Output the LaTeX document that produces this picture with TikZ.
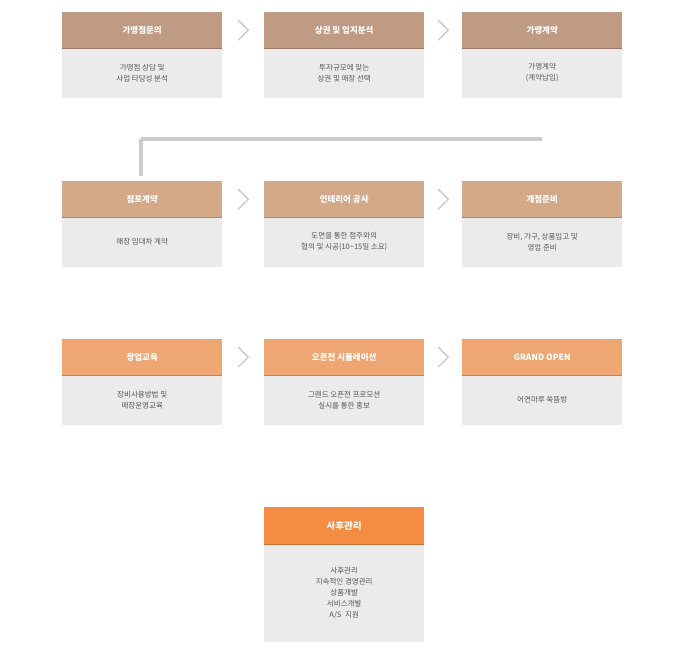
\documentclass[tikz,border=0pt]{standalone}
\usepackage{fontspec}
\setmainfont{Noto Sans CJK KR}
\usetikzlibrary{positioning,calc}
\definecolor{hdone}{HTML}{BF9B83}
\definecolor{hdtwo}{HTML}{D4A98A}
\definecolor{hdthree}{HTML}{EEA673}
\definecolor{hdfour}{HTML}{F58C43}
\definecolor{bodygray}{HTML}{EBEBEB}
\definecolor{linkgray}{HTML}{CCCCCC}
\definecolor{txtgray}{HTML}{555555}
\tikzset{
  head/.style={minimum width=160pt, minimum height=36pt, inner sep=0pt, text=white, font=\bfseries\fontsize{8.5}{10}\selectfont},
  body/.style={fill=bodygray, minimum width=160pt, minimum height=49pt, inner sep=0pt, text=txtgray, align=center, font=\fontsize{7.5}{11}\selectfont},
  chev/.style={draw=linkgray, line width=1.5pt},
  link/.style={draw=linkgray, line width=4pt},
  tip/.style={draw=linkgray, line width=4pt, line cap=butt, line join=miter}
}
\begin{document}
\begin{tikzpicture}[x=1pt,y=-1pt]
        \useasboundingbox (0,0) rectangle (678,657);

        % Rows of steps
        \foreach \n/\x/\y/\c/\hd/\bd in {
            a/62/12/hdone/가맹점문의/{가맹점 상담 및\\사업 타당성 분석},
            b/264/12/hdone/상권 및 입지분석/{투자규모에 맞는\\상권 및 매장 선택},
            c/462/12/hdone/가맹계약/{가맹계약\\(계약납입)},
            d/62/181/hdtwo/점포계약/{매장 임대차 계약},
            e/264/181/hdtwo/인테리어 공사/{도면을 통한 점주와의\\협의 및 시공(10\textasciitilde15일 소요)},
            f/462/181/hdtwo/개점준비/{장비, 가구, 상품입고 및\\영업 준비},
            g/62/339/hdthree/창업교육/{장비사용방법 및\\매장운영교육},
            h/264/339/hdthree/오픈전 시뮬레이션/{그랜드 오픈전 프로모션\\실시를 통한 홍보},
            i/462/339/hdthree/GRAND OPEN/{어연마루 쑥뜸방}}
        {
            \node[head, fill=\c, anchor=north west] (\n h) at (\x,\y) {\hd};
            \node[body, anchor=north] (\n b) at (\n h.south) {\bd};
            \draw[\c!80!black, line width=0.6pt] (\n h.south west) -- (\n h.south east);
        }

        % Last step
        \node[head, fill=hdfour, minimum height=37pt, anchor=north west, font=\bfseries\fontsize{9.5}{11}\selectfont] (jh) at (264,507) {사후관리};
        \node[body, minimum height=97pt, anchor=north, font=\fontsize{7.5}{10.8}\selectfont] (jb) at (jh.south) {사후관리\\지속적인 경영관리\\상품개발\\서비스개발\\A/S\enspace 지원};
        \draw[hdfour!80!black, line width=0.6pt] (jh.south west) -- (jh.south east);

        % Chevrons between steps
        \foreach \p/\q in {a/b,b/c,d/e,e/f,g/h,h/i}
            \draw[chev] ($(\p h.east)!0.5!(\q h.west)+(-5,-10)$) -- ++(10,10) -- ++(-10,10);

        % Links between rows
        \coordinate (ca) at (542,139);
        \coordinate (cb) at (141,139);
        \coordinate (cc) at (141,176);
        \draw[link] (cb) -- (cc);
        \draw[link] (cb) -- (ca);
        \draw[link] (cb) -- (ca);
        \draw[link] (cb) -- (cc);
        \draw[link] (cb) -- (cc);
        \draw[link] (cb) -- (cc);
        \draw[link] (cb) -- (cc);
        \draw[link] (cb) -- (cc);
        \draw[link] (cb) -- (cc);
        \draw[link] (cb) -- (cc);
        \draw[link] (cb) -- (cc);
        \draw[link] (cb) -- (cc);
        \draw[link] (cb) -- (cc);
        \draw[link] (cb) -- (cc);
        \draw[link] (cb) -- (cc);
        \draw[link] (cb) -- (cc);
        \draw[link] (cb) -- (cc);
        \draw[link] (cb) -- (cc);
        \draw[link] (cb) -- (cc);
        \draw[link] (cb) -- (cc);
        \draw[link] (cb) -- (cc);
        \draw[link] (cb) -- (cc);
        \draw[link] (cb) -- (cc);
        \draw[link] (cb) -- (cc);
        \draw[link] (cb) -- (cc);
        \draw[link] (cb) -- (cc);
        \draw[link] (cb) -- (cc);
        \draw[link] (cb) -- (cc);
        \draw[link] (cb) -- (cc);
        \draw[link] (cb) -- (cc);
        \draw[link] (cb) -- (cc);
        \draw[link] (cb) -- (cc);
        \draw[link] (cb) -- (cc);
        \draw[link] (cb) -- (cc);
        \draw[link] (cb) -- (cc);
        \draw[link] (cb) -- (cc);
        \draw[link] (cb) -- (cc);
        \draw[link] (cb) -- (cc);
        \draw[link] (cb) -- (cc);
        \draw[link] (cb) -- (cc);
        \draw[link] (cb) -- (cc);
        \draw[link] (cb) -- (cc);
        \draw[link] (cb) -- (cc);
        \draw[link] (cb) -- (cc);
        \draw[link] (cb) -- (cc);
        \draw[link] (cb) -- (cc);
        \draw[link] (cb) -- (cc);
        \draw[link] (cb) -- (cc);
        \draw[link] (cb) -- (cc);
        \draw[link] (cb) -- (cc);
        \draw[link] (cb) -- (cc);
        \draw[link] (cb) -- (cc);
        \draw[link] (cb) -- (cc);
        \draw[link] (cb) -- (cc);
        \draw[link] (cb) -- (cc);
        \draw[link] (cb) -- (cc);
        \draw[link] (cb) -- (cc);
        \draw[link] (cb) -- (cc);
        \draw[link] (cb) -- (cc);
        \draw[link] (cb) -- (cc);
        \draw[link] (cb) -- (cc);
        \draw[link] (cb) -- (cc);
        \draw[link] (cb) -- (cc);
        \draw[link] (cb) -- (cc);
        \draw[link] (cb) -- (cc);
        \draw[link] (cb) -- (cc);
        \draw[link] (cb) -- (cc);
        \draw[link] (cb) -- (cc);
        \draw[link] (cb) -- (cc);
        \draw[link] (cb) -- (cc);
        \draw[link] (cb) -- (cc);
        \draw[link] (cb) -- (cc);
        \draw[link] (cb) -- (cc);
        \draw[link] (cb) -- (cc);
        \draw[link] (cb) -- (cc);
        \draw[link] (cb) -- (cc);
        \draw[link] (cb) -- (cc);
        \draw[link] (cb) -- (cc);
        \draw[link] (cb) -- (cc);
        \draw[link] (cb) -- (cc);
        \draw[link] (cb) -- (cc);
        \draw[link] (cb) -- (cc);
        \draw[link] (cb) -- (cc);
        \draw[link] (cb) -- (cc);
        \draw[link] (cb) -- (cc);
        \draw[link] (cb) -- (cc);
        \draw[link] (cb) -- (cc);
        \draw[link] (cb) -- (cc);
        \draw[link] (cb) -- (cc);
        \draw[link] (cb) -- (cc);
        \draw[link] (cb) -- (cc);
        \draw[link] (cb) -- (cc);
        \draw[link] (cb) -- (cc);
        \draw[link] (cb) -- (cc);
        \draw[link] (cb) -- (cc);
        \draw[link] (cb) -- (cc);
        \draw[link] (cb) -- (cc);
        \draw[link] (cb) -- (cc);
        \draw[link] (cb) -- (cc);
        \draw[link] (cb) -- (cc);
        \draw[link] (cb) -- (cc);
        \draw[link] (cb) -- (cc);
        \draw[link] (cb) -- (cc);
        \draw[link] (cb) -- (cc);
        \draw[link] (cb) -- (cc);
        \draw[link] (cb) -- (cc);
        \draw[link] (cb) -- (cc);
        \draw[link] (cb) -- (cc);
        \draw[link] (cb) -- (cc);
        \draw[link] (cb) -- (cc);
        \draw[link] (cb) -- (cc);
        \draw[link] (cb) -- (cc);
        \draw[link] (cb) -- (cc);
        \draw[link] (cb) -- (cc);
        \draw[link] (cb) -- (cc);
        \draw[link] (cb) -- (cc);
        \draw[link] (cb) -- (cc);
        \draw[link] (cb) -- (cc);
        \draw[link] (cb) -- (cc);
        \draw[link] (cb) -- (cc);
        \draw[link] (cb) -- (cc);
        \draw[link] (cb) -- (cc);
        \draw[link] (cb) -- (cc);
        \draw[link] (cb) -- (cc);
        \draw[link] (cb) -- (cc);
        \draw[link] (cb) -- (cc);
        \draw[link] (cb) -- (cc);
        \draw[link] (cb) -- (cc);
        \draw[link] (cb) -- (cc);
        \draw[link] (cb) -- (cc);
        \draw[link] (cb) -- (cc);
        \draw[link] (cb) -- (cc);
        \draw[link] (cb) -- (cc);
        \draw[link] (cb) -- (cc);
        \draw[link] (cb) -- (cc);
        \draw[link] (cb) -- (cc);
        \draw[link] (cb) -- (cc);
        \draw[link] (cb) -- (cc);
        \draw[link] (cb) -- (cc);
        \draw[link] (cb) -- (cc);
\end{tikzpicture}
\end{document}
